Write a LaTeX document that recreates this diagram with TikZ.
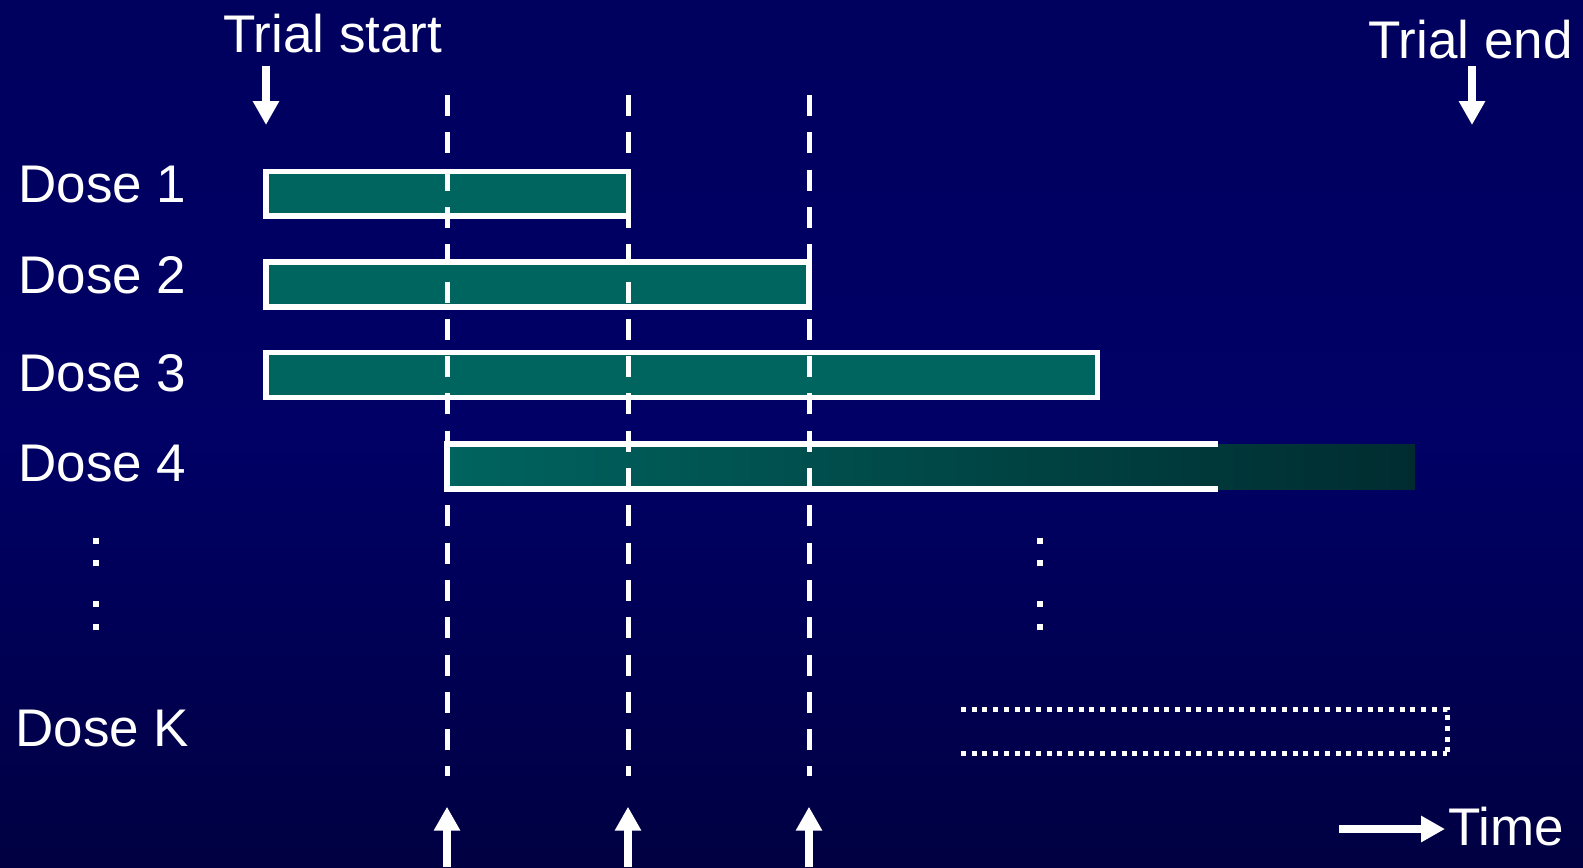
\documentclass[tikz,border=0pt]{standalone}
\usepackage{fontspec}
\setmainfont{Liberation Sans}
\usetikzlibrary{arrows.meta}
\definecolor{bgtop}{RGB}{0,0,94}
\definecolor{bgmid}{RGB}{0,0,102}
\definecolor{bgbot}{RGB}{0,0,66}
\definecolor{tealA}{RGB}{0,100,95}
\definecolor{tealB}{RGB}{0,44,48}
\begin{document}
\begin{tikzpicture}[x=0.5pt,y=-0.5pt,
 lbl/.style={text=white, font=\fontsize{26.5pt}{30pt}\selectfont, inner sep=0pt, anchor=base west},
 barbox/.style={draw=white, line width=2.75pt, fill=tealA},
 openbox/.style={draw=white, line width=2.75pt},
 cut/.style={draw=white, line width=2.5pt, dash pattern=on 10.5pt off 8.15pt},
 blockarrow/.style={draw=white, line width=3.85pt, -{Triangle[width=12.5pt,length=12pt]}},
 dotbox/.style={draw=white, line width=2.5pt, dash pattern=on 2.5pt off 2.85pt},
 dotmark/.style={fill=white, minimum size=3pt, inner sep=0pt, outer sep=0pt, shape=rectangle}
]
\shade[top color=bgtop, bottom color=bgbot, middle color=bgmid] (0,0) rectangle (1583,867);
\useasboundingbox (0,0) rectangle (1583,867);

% labels
\node[lbl] (ts) at (223,52) {Trial start};
\node[lbl] (te) at (1368,58) {Trial end};
\node[lbl] (d1) at (18,202) {Dose 1};
\node[lbl] (d2) at (18,293) {Dose 2};
\node[lbl] (d3) at (18,391) {Dose 3};
\node[lbl] (d4) at (18,481) {Dose 4};
\node[lbl] (dk) at (15,746) {Dose K};
\node[lbl] (time) at (1448,845) {Time};

% dose bars
\coordinate (b1a) at (266,171.5); \coordinate (b1b) at (628.5,216);
\coordinate (b2a) at (266,262);   \coordinate (b2b) at (809,307);
\coordinate (b3a) at (266,352.5); \coordinate (b3b) at (1097.5,397.5);
\draw[barbox] (b1a) rectangle (b1b);
\draw[barbox] (b2a) rectangle (b2b);
\draw[barbox] (b3a) rectangle (b3b);

\coordinate (b4a) at (447,444); \coordinate (b4f) at (1415,489);
\coordinate (b4tr) at (1218,444); \coordinate (b4bl) at (447,489); \coordinate (b4br) at (1218,489);
\shade[left color=tealA, right color=tealB] (b4a) rectangle (b4f);
\draw[openbox] (b4tr) -- (b4a) -- (b4bl) -- (b4br);

% Dose K dotted box
\coordinate (bka) at (961,709); \coordinate (bkb) at (1447,709);
\coordinate (bkc) at (1447,753); \coordinate (bkd) at (961,753);
\draw[dotbox] (bka) -- (bkb) -- (bkc);
\draw[dotbox] (bkd) -- (bkc);

% dashed interim lines
\coordinate (c1t) at (447,95); \coordinate (c1b) at (447,776);
\coordinate (c2t) at (628,95); \coordinate (c2b) at (628,776);
\coordinate (c3t) at (809,95); \coordinate (c3b) at (809,776);
\draw[cut] (c1t) -- (c1b);
\draw[cut] (c2t) -- (c2b);
\draw[cut] (c3t) -- (c3b);

% arrows
\coordinate (a1s) at (447,867); \coordinate (a1e) at (447,806.7);
\coordinate (a2s) at (628,867); \coordinate (a2e) at (628,806.7);
\coordinate (a3s) at (809,867); \coordinate (a3e) at (809,806.7);
\draw[blockarrow] (a1s) -- (a1e);
\draw[blockarrow] (a2s) -- (a2e);
\draw[blockarrow] (a3s) -- (a3e);
\coordinate (tss) at (266,66); \coordinate (tse) at (266,125);
\coordinate (tes) at (1472,66); \coordinate (tee) at (1472,125);
\draw[blockarrow] (tss) -- (tse);
\draw[blockarrow] (tes) -- (tee);
\coordinate (tms) at (1339,829); \coordinate (tme) at (1445,829);
\draw[blockarrow] (tms) -- (tme);

% vertical ellipsis dots
\foreach \yy [count=\i] in {541,563,604,627} {
  \node[dotmark] (ldot\i) at (96,\yy) {};
  \node[dotmark] (rdot\i) at (1040,\yy) {};
}
\end{tikzpicture}
\end{document}
